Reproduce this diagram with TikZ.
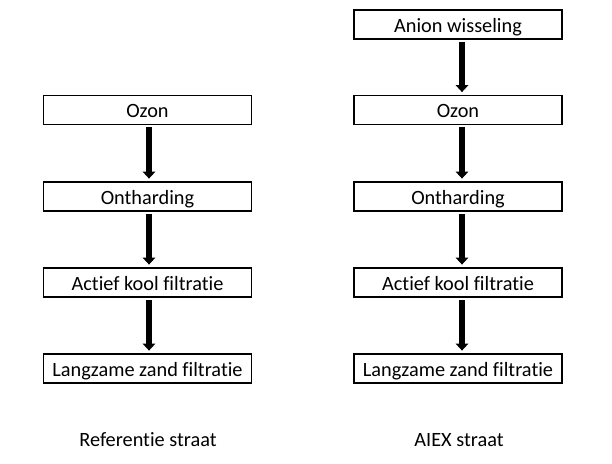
\documentclass[tikz,border=0pt]{standalone}
\usepackage{fontspec}
\setmainfont[Ligatures=NoCommon]{Carlito}
\usetikzlibrary{arrows.meta}
\begin{document}
\begin{tikzpicture}[x=1pt,y=-1pt,
  stepbox/.style={draw=black,line width=1.8pt,minimum width=208pt,minimum height=29pt,inner sep=0pt,text height=19pt,text depth=4pt,font=\fontsize{20.3}{24}\selectfont},
  lbl/.style={anchor=base,font=\fontsize{20.3}{24}\selectfont},
  flow/.style={line width=6pt,-{Triangle[width=12.5pt,length=7pt]},shorten <=2pt,shorten >=2.5pt}]
\useasboundingbox (0,0) rectangle (612,463);
\fill[white] (0,0) rectangle (612,463);
% left column
\node[stepbox] (l1) at (147.5,110) {Ozon};
\node[stepbox] (l2) at (147.5,196.5) {Ontharding};
\node[stepbox] (l3) at (147.5,282.5) {Actief kool filtratie};
\node[stepbox] (l4) at (147.5,368.5) {Langzame zand filtratie};
\node[lbl] (lt) at (148,446) {Referentie straat};
% right column
\node[stepbox] (r0) at (458,24.5) {Anion wisseling};
\node[stepbox] (r1) at (458,110) {Ozon};
\node[stepbox] (r2) at (458,196.5) {Ontharding};
\node[stepbox] (r3) at (458,282.5) {Actief kool filtratie};
\node[stepbox] (r4) at (458,368.5) {Langzame zand filtratie};
\node[lbl] (rt) at (459,446) {AIEX straat};
% arrows
\draw[flow] ([xshift=1.5pt]l1.south) -- ([xshift=1.5pt]l2.north);
\draw[flow] ([xshift=1.5pt]l2.south) -- ([xshift=1.5pt]l3.north);
\draw[flow] ([xshift=1.5pt]l3.south) -- ([xshift=1.5pt]l4.north);
\draw[flow] ([xshift=4pt]r0.south) -- ([xshift=4pt]r1.north);
\draw[flow] ([xshift=4pt]r1.south) -- ([xshift=4pt]r2.north);
\draw[flow] ([xshift=4pt]r2.south) -- ([xshift=4pt]r3.north);
\draw[flow] ([xshift=4pt]r3.south) -- ([xshift=4pt]r4.north);
\end{tikzpicture}
\end{document}
